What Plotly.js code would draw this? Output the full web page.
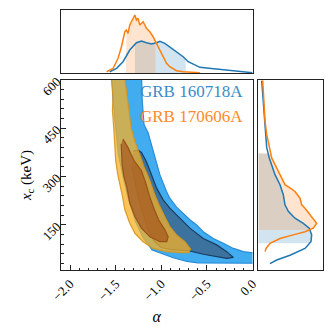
<!DOCTYPE html>
<html>
<head>
<meta charset="utf-8">
<script src="https://cdn.plot.ly/plotly-3.0.1.min.js"></script>
<style>
  body { margin: 0; background: #fff; }
  #plot { width: 333px; height: 336px; }
</style>
</head>
<body>
<div id="plot"></div>
<script>
// credible contours (alpha, x_c in keV)
var blueOuterA = [-1.545, -1.53, -1.50, -1.47, -1.42, -1.36, -1.28, -1.20, -1.10, -1.00, -0.87, -0.72, -0.60, 0.05,
                  0.05, -0.10, -0.21, -0.32, -0.43, -0.54, -0.613, -0.687, -0.76, -0.833, -0.907, -0.943, -1.016, -1.09, -1.145, -1.19, -1.21, -1.22];
var blueOuterX = [650, 540, 450, 370, 300, 230, 160, 110, 72, 62, 48, 37, 32, 31,
                  62, 67, 77, 93, 108, 129, 150, 166, 186, 205, 233, 254, 306, 379, 436, 462, 540, 650];

var blueInnerA = [-1.31, -1.255, -1.218, -1.163, -1.108, -1.053, -0.98, -0.907, -0.797, -0.687, -0.54, -0.393, -0.283, -0.21,
                  -0.283, -0.43, -0.54, -0.687, -0.797, -0.907, -1.00, -1.08, -1.15, -1.22, -1.28, -1.32];
var blueInnerX = [379, 382, 375, 346, 306, 265, 228, 202, 171, 140, 108, 88, 67, 49,
                  46, 53, 59, 69, 72, 74, 80, 100, 140, 200, 270, 330];

var orangeOuterA = [-1.547, -1.547, -1.53, -1.536, -1.522, -1.51, -1.50, -1.48, -1.456, -1.426, -1.40, -1.346, -1.29, -1.20, -1.09, -0.943, -0.797, -0.70,
                    -0.68, -0.70, -0.742, -0.833, -0.907, -0.97, -1.03, -1.08, -1.13, -1.19, -1.24, -1.29, -1.33, -1.35, -1.38, -1.40, -1.41];
var orangeOuterX = [650, 600, 547, 505, 453, 401, 349, 310, 280, 238, 197, 155, 124, 98, 77, 67, 64, 64,
                    75, 82, 98, 119, 145, 180, 215, 250, 290, 330, 370, 410, 450, 490, 547, 604, 650];

var orangeInnerA = [-1.42, -1.365, -1.30, -1.22, -1.17, -1.13, -1.08, -1.03, -0.96, -0.925, -0.94, -1.016, -1.126, -1.218, -1.29, -1.346, -1.38, -1.41, -1.43, -1.44];
var orangeInnerX = [417, 390, 350, 320, 280, 240, 200, 166, 134, 113, 98, 98, 113, 140, 176, 218, 270, 300, 338, 401];

// marginal of alpha
var blueAlphaGrid = [-1.566, -1.49, -1.42, -1.346, -1.273, -1.218, -1.163, -1.108, -1.053, -1.016, -0.962, -0.907, -0.833, -0.76, -0.705, -0.632, -0.577, -0.503, -0.43, -0.357, -0.21, 0.0];
var blueAlphaDens = [1.3, 4.7, 11.3, 23, 30.3, 32, 30.3, 29, 30.3, 31.7, 29.7, 26.3, 21.3, 16.3, 11.3, 8, 5.7, 5, 4.3, 3.3, 2, 0.3];
var orangeAlphaGrid = [-1.60, -1.528, -1.474, -1.437, -1.40, -1.383, -1.365, -1.346, -1.328, -1.31, -1.29, -1.273, -1.255, -1.236, -1.218, -1.20, -1.181, -1.163, -1.126, -1.09, -1.053, -1.016, -0.98, -0.943, -0.907, -0.87, -0.833, -0.76, -0.577];
var orangeAlphaDens = [1.3, 4.7, 14.7, 26.3, 41.3, 43, 39.7, 48, 51.3, 54.7, 58, 53, 54.7, 48, 49.7, 51.3, 48, 44.7, 41.3, 36.3, 29.7, 23, 16.3, 9.7, 6.3, 4, 2.3, 1.3, 0.3];

// marginal of x_c
var blueXcGrid = [598, 556, 515, 473, 431, 390, 358, 337.5, 306, 275, 244, 212.5, 192, 171, 155, 140, 119, 98, 77, 56, 41, 30];
var blueXcDens = [3.4, 4.4, 5, 5.7, 6.7, 8.4, 11, 13.4, 16.7, 21.7, 25, 26.7, 30, 36.7, 45, 51, 53.4, 52.7, 46.7, 31.7, 18.4, 11.7];
var orangeXcGrid = [598, 535, 473, 431, 410, 379, 358, 337.5, 317, 296, 275, 265, 254, 233, 212.5, 202, 181, 160, 155, 140, 129, 119, 108, 93, 77, 67];
var orangeXcDens = [4.4, 5.7, 6.7, 8.4, 10, 12.4, 13.4, 16.7, 20, 23.4, 26.7, 31.7, 36.7, 41.7, 43.4, 46.7, 51.7, 56.7, 58.4, 55, 46.7, 35, 21.7, 11.7, 7.7, 6.7];

// 68% intervals
var blueAlphaCI = [-1.29, -0.733];
var orangeAlphaCI = [-1.39, -1.064];
var blueXcCI = [93, 372];
var orangeXcCI = [134, 372];

var names = ["GRB 160718A", "GRB 170606A"];
var blueLine = "#1f77b4", orangeLine = "#ff7f0e";

function interp(xs, ys, v) {
  var order = xs.map(function (x, i) { return i; }).sort(function (a, b) { return xs[a] - xs[b]; });
  for (var k = 0; k < order.length - 1; k++) {
    var i = order[k], j = order[k + 1];
    if (v >= xs[i] && v <= xs[j]) return ys[i] + (ys[j] - ys[i]) * (v - xs[i]) / (xs[j] - xs[i]);
  }
  return 0;
}

// area under a marginal curve between the interval bounds
function band(grid, dens, ci) {
  var g = [ci[0], ci[0]], d = [0, interp(grid, dens, ci[0])];
  var idx = grid.map(function (x, i) { return i; })
    .filter(function (i) { return grid[i] > ci[0] && grid[i] < ci[1]; })
    .sort(function (a, b) { return grid[a] - grid[b]; });
  idx.forEach(function (i) { g.push(grid[i]); d.push(dens[i]); });
  g.push(ci[1], ci[1]); d.push(interp(grid, dens, ci[1]), 0);
  return {g: g, d: d};
}

var ba = band(blueAlphaGrid, blueAlphaDens, blueAlphaCI);
var oa = band(orangeAlphaGrid, orangeAlphaDens, orangeAlphaCI);
var bx = band(blueXcGrid, blueXcDens, blueXcCI);
var ox = band(orangeXcGrid, orangeXcDens, orangeXcCI);

function poly(a, x, fill, line) {
  return {x: a, y: x, type: "scatter", mode: "lines", fill: "toself", fillcolor: fill,
          line: {color: line, width: 1.2}, hoverinfo: "skip", showlegend: false};
}

var data = [
  poly(blueOuterA, blueOuterX, "rgb(66,172,240)", "rgb(40,140,215)"),
  poly(blueInnerA, blueInnerX, "rgb(60,115,158)", "rgb(25,60,95)"),
  poly(orangeOuterA, orangeOuterX, "rgba(246,176,38,0.75)", "rgba(215,150,25,0.9)"),
  poly(orangeInnerA, orangeInnerX, "rgba(165,85,30,0.7)", "rgba(150,75,20,0.9)"),

  // top marginal
  {x: ba.g, y: ba.d, xaxis: "x2", yaxis: "y2", type: "scatter", mode: "lines", fill: "toself",
   fillcolor: "rgba(31,119,180,0.2)", line: {width: 0}, hoverinfo: "skip", showlegend: false},
  {x: oa.g, y: oa.d, xaxis: "x2", yaxis: "y2", type: "scatter", mode: "lines", fill: "toself",
   fillcolor: "rgba(255,127,14,0.2)", line: {width: 0}, hoverinfo: "skip", showlegend: false},
  {x: blueAlphaGrid, y: blueAlphaDens, xaxis: "x2", yaxis: "y2", type: "scatter", mode: "lines",
   line: {color: blueLine, width: 1.5}, showlegend: false},
  {x: orangeAlphaGrid, y: orangeAlphaDens, xaxis: "x2", yaxis: "y2", type: "scatter", mode: "lines",
   line: {color: orangeLine, width: 1.5}, showlegend: false},

  // right marginal
  {x: bx.d, y: bx.g, xaxis: "x3", yaxis: "y3", type: "scatter", mode: "lines", fill: "toself",
   fillcolor: "rgba(31,119,180,0.2)", line: {width: 0}, hoverinfo: "skip", showlegend: false},
  {x: ox.d, y: ox.g, xaxis: "x3", yaxis: "y3", type: "scatter", mode: "lines", fill: "toself",
   fillcolor: "rgba(255,127,14,0.2)", line: {width: 0}, hoverinfo: "skip", showlegend: false},
  {x: blueXcDens, y: blueXcGrid, xaxis: "x3", yaxis: "y3", type: "scatter", mode: "lines",
   line: {color: blueLine, width: 1.5}, showlegend: false},
  {x: orangeXcDens, y: orangeXcGrid, xaxis: "x3", yaxis: "y3", type: "scatter", mode: "lines",
   line: {color: orangeLine, width: 1.5}, showlegend: false}
];

var font = "Liberation Serif, DejaVu Serif, serif";
var frame = {showline: true, mirror: true, linecolor: "#222", linewidth: 1.3, showgrid: false, zeroline: false};

var layout = {
  width: 333, height: 336,
  margin: {l: 0, r: 0, t: 0, b: 0},
  paper_bgcolor: "#fff", plot_bgcolor: "#fff",
  font: {family: font, size: 13, color: "#000"},
  showlegend: false,
  xaxis: Object.assign({}, frame, {
    domain: [0.1832, 0.7583], range: [-2.1, 0], anchor: "y",
    tickvals: [-2.0, -1.5, -1.0, -0.5, 0.0], tickformat: ".1f", tickangle: -45,
    ticks: "inside", ticklen: 5, tickcolor: "#222",
    minor: {ticks: "inside", ticklen: 2.5, dtick: 0.1, tickcolor: "#222"},
    tickfont: {family: font, size: 13},
    title: {text: "<i>α</i>", font: {family: font, size: 16}, standoff: 8}
  }),
  yaxis: Object.assign({}, frame, {
    domain: [0.1964, 0.7619], range: [10, 600], anchor: "x",
    tickvals: [150, 300, 450, 600], tickangle: -45,
    ticks: "inside", ticklen: 5, tickcolor: "#222",
    minor: {ticks: "inside", ticklen: 2.5, dtick: 30, tickcolor: "#222"},
    tickfont: {family: font, size: 13},
    title: {text: "<i>x</i><sub>c</sub> (keV)", font: {family: font, size: 15}, standoff: 4}
  }),
  xaxis2: Object.assign({}, frame, {
    domain: [0.1832, 0.7583], range: [-2.1, 0], anchor: "y2", showticklabels: false, ticks: ""
  }),
  yaxis2: Object.assign({}, frame, {
    domain: [0.7827, 0.9702], range: [0, 63], anchor: "x2", showticklabels: false, ticks: ""
  }),
  xaxis3: Object.assign({}, frame, {
    domain: [0.7757, 0.969], range: [0, 64.4], anchor: "y3", showticklabels: false, ticks: ""
  }),
  yaxis3: Object.assign({}, frame, {
    domain: [0.1964, 0.7619], range: [10, 600], anchor: "x3", showticklabels: false, ticks: ""
  }),
  annotations: [
    {text: names[0], xref: "paper", yref: "paper", x: 0.737, y: 0.727, xanchor: "right", yanchor: "middle",
     showarrow: false, font: {family: font, size: 17, color: "#3a8cc8"}},
    {text: names[1], xref: "paper", yref: "paper", x: 0.737, y: 0.652, xanchor: "right", yanchor: "middle",
     showarrow: false, font: {family: font, size: 17, color: "#ff8a2a"}}
  ]
};

Plotly.newPlot("plot", data, layout, {staticPlot: true, displayModeBar: false});
</script>
</body>
</html>
